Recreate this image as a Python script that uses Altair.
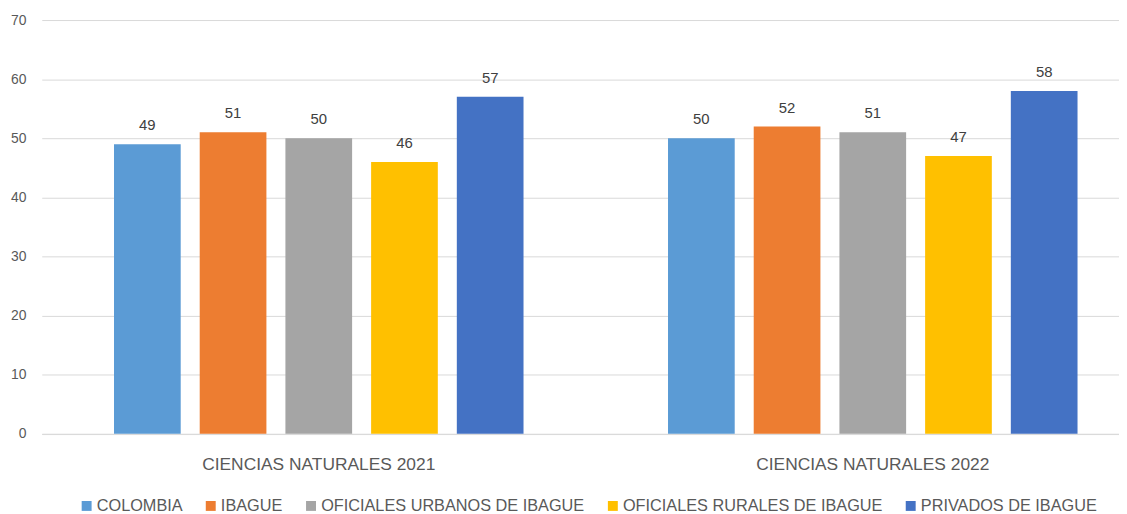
import altair as alt
import pandas as pd

groups = ["CIENCIAS NATURALES 2021", "CIENCIAS NATURALES 2022"]
series = ["COLOMBIA", "IBAGUE", "OFICIALES URBANOS DE IBAGUE",
          "OFICIALES RURALES DE IBAGUE", "PRIVADOS DE IBAGUE"]
values_2021 = [49, 51, 50, 46, 57]
values_2022 = [50, 52, 51, 47, 58]
colors = ["#5B9BD5", "#ED7D31", "#A5A5A5", "#FFC000", "#4472C4"]
y_ticks = [0, 10, 20, 30, 40, 50, 60, 70]

rows = []
for g, vals in zip(groups, [values_2021, values_2022]):
    for s, v in zip(series, vals):
        rows.append({"grupo": g, "serie": s, "valor": v})
df = pd.DataFrame(rows)

FONT = "Liberation Sans"

x = alt.X(
    "grupo:N", sort=groups, title=None,
    scale=alt.Scale(range=[0, 1116], paddingInner=0, paddingOuter=0),
    axis=alt.Axis(labelAngle=0, ticks=False, domainColor="#D9D9D9",
                  labelFont=FONT, labelFontSize=17.5, labelColor="#595959",
                  labelPadding=22, labelLimit=0),
)
xo = alt.XOffset("serie:N", sort=series,
                 scale=alt.Scale(paddingInner=0.2217, paddingOuter=0.843))
y = alt.Y(
    "valor:Q", scale=alt.Scale(domain=[0, 70]), title=None,
    axis=alt.Axis(values=y_ticks, domain=False, ticks=False,
                  gridColor="#D9D9D9", labelPadding=16, labelFont=FONT,
                  labelFontSize=14, labelColor="#595959"),
)

bars = alt.Chart(df).mark_bar().encode(
    x=x, xOffset=xo, y=y,
    color=alt.Color(
        "serie:N", sort=series,
        scale=alt.Scale(domain=series, range=colors),
        legend=alt.Legend(
            title=None, orient="none", legendX=37, legendY=481,
            direction="horizontal", symbolType="square", symbolSize=100,
            symbolStrokeWidth=0, labelOffset=2, columnPadding=20,
            labelFont=FONT, labelFontSize=16.4, labelColor="#595959",
            labelLimit=0, padding=0,
        ),
    ),
)

labels = alt.Chart(df).mark_text(
    baseline="bottom", dy=-11, font=FONT, fontSize=15, color="#404040"
).encode(x=x, xOffset=xo, y=y, text="valor:Q")

chart = (bars + labels).properties(
    width=1080, height=416.7,
    autosize=alt.AutoSizeParams(type="none"),
    padding={"left": 34, "top": 10.3, "right": 5, "bottom": 79},
    background="white",
).configure_view(stroke=None)

chart.save("out.html", embed_options={"renderer": "svg", "actions": False})
